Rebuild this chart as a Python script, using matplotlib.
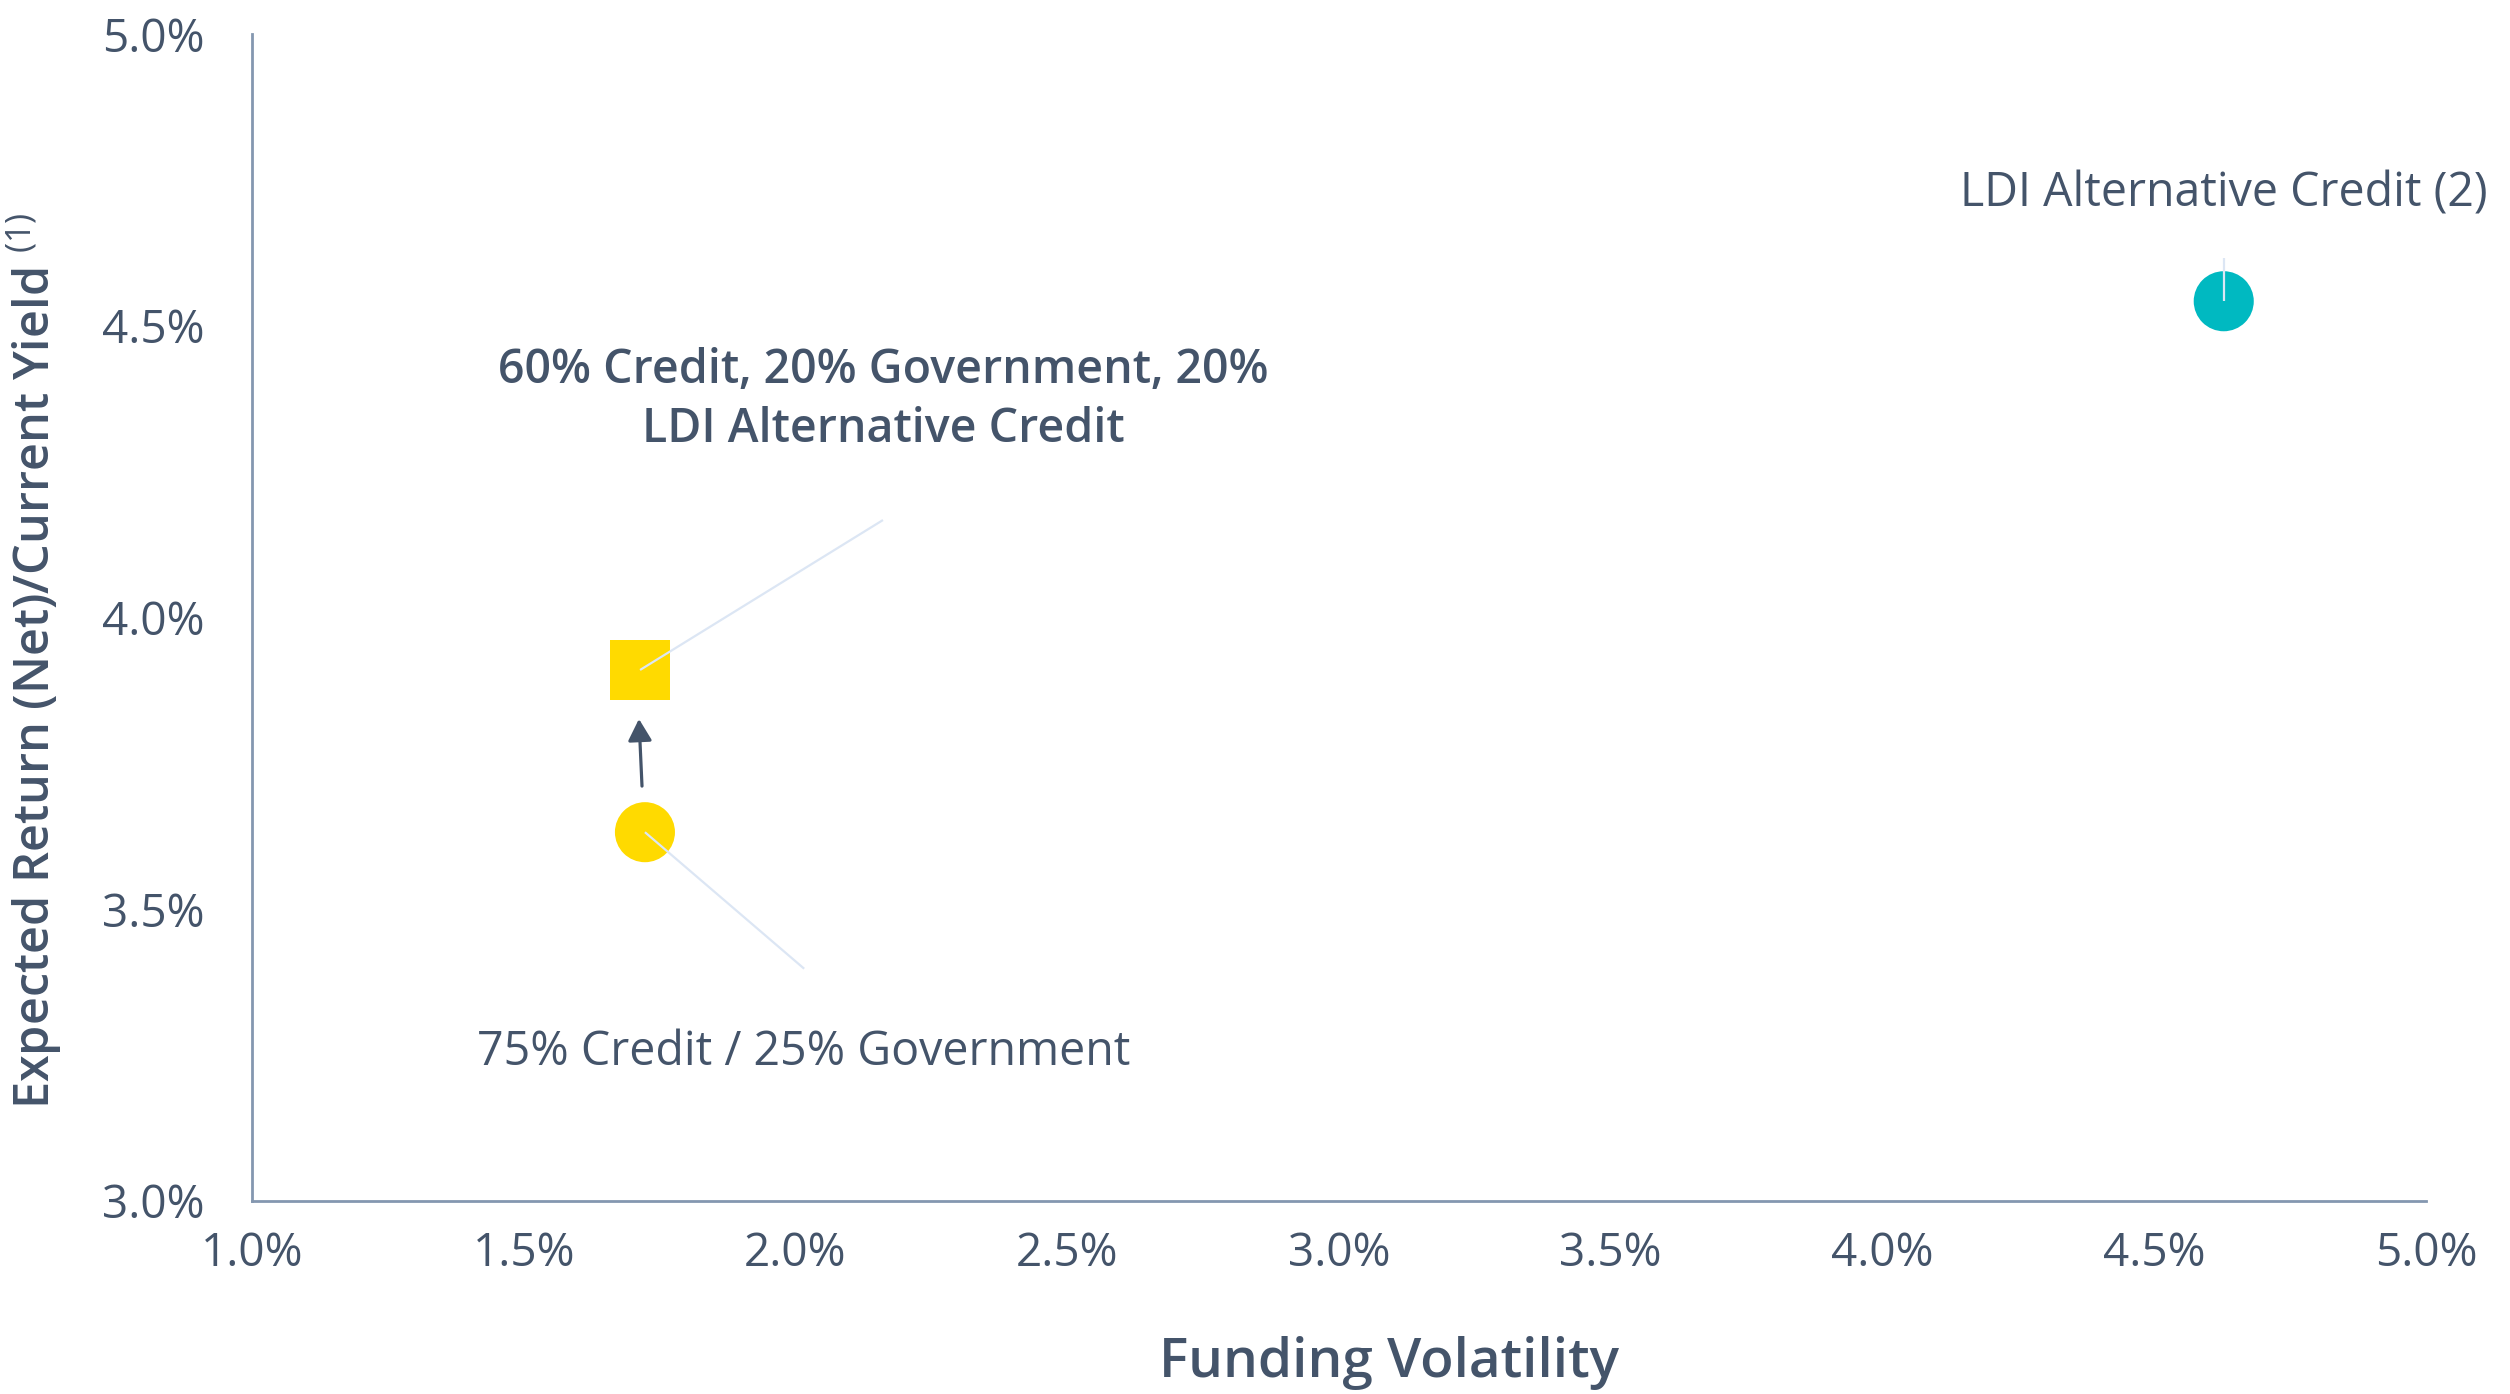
import matplotlib
matplotlib.use("Agg")
import matplotlib.pyplot as plt
from matplotlib.ticker import FuncFormatter

# portfolio points (funding volatility %, expected return %)
names = ["75% Credit / 25% Government",
         "60% Credit, 20% Government, 20%\nLDI Alternative Credit",
         "LDI Alternative Credit (2)"]
vol = [1.723, 1.714, 4.628]
ret = [3.632, 3.910, 4.542]
markers = ["o", "s", "o"]
colors = ["#FFDA00", "#FFDA00", "#00B9C1"]
weights = ["normal", "semibold", "normal"]

# label positions (data coords) and leader-line ends
label_xy = [(2.016, 3.255), (2.161, 4.373), (4.628, 4.726)]
leader_end = [(2.016, 3.398), (2.161, 4.167), (4.628, 4.616)]

TEXT = "#44546A"
AXIS = "#8497B0"
LEADER = "#DCE6F4"

plt.rcParams["font.family"] = ["Open Sans", "DejaVu Sans"]
plt.rcParams["mathtext.fontset"] = "custom"
plt.rcParams["mathtext.rm"] = "Open Sans"

fig = plt.figure(figsize=(25.1, 13.94), dpi=100)
ax = fig.add_axes([0.1004, 0.1385, 0.8661, 0.8371])

for i in range(len(names)):
    ax.plot([vol[i], leader_end[i][0]], [ret[i], leader_end[i][1]],
            color=LEADER, lw=1.6, zorder=3, solid_capstyle="butt")
    ax.scatter(vol[i], ret[i], marker=markers[i], s=1870, color=colors[i],
               edgecolors="none", zorder=2)
    ax.text(label_xy[i][0], label_xy[i][1], names[i], ha="center",
            va="center", fontsize=33.5, color=TEXT, fontweight=weights[i],
            linespacing=1.35)

# shift arrow from the 75/25 mix to the new mix
ax.annotate("", xy=(1.712, 3.826), xytext=(1.7176, 3.711),
            arrowprops=dict(arrowstyle="-|>,head_length=0.4,head_width=0.22",
                            color=TEXT, lw=2.3, mutation_scale=33,
                            shrinkA=0, shrinkB=0))

ax.set_xlim(1.0, 5.0)
ax.set_ylim(3.0, 5.0)
ax.set_xticks([1.0, 1.5, 2.0, 2.5, 3.0, 3.5, 4.0, 4.5, 5.0])
ax.set_yticks([3.0, 3.5, 4.0, 4.5, 5.0])
pct = FuncFormatter(lambda v, p: f"{v:.1f}%")
ax.xaxis.set_major_formatter(pct)
ax.yaxis.set_major_formatter(pct)
ax.tick_params(length=0, labelsize=33, labelcolor=TEXT)
ax.tick_params(axis="x", pad=22)
ax.tick_params(axis="y", pad=34)

for s in ["top", "right"]:
    ax.spines[s].set_visible(False)
for s in ["left", "bottom"]:
    ax.spines[s].set_color(AXIS)
    ax.spines[s].set_linewidth(2)

ax.set_xlabel("Funding Volatility", fontsize=39.5, color=TEXT,
              fontweight="semibold")
ax.xaxis.set_label_coords(0.523, -0.1157)
ax.set_ylabel("Expected Return (Net)/Current Yield $^{\\mathrm{(1)}}$",
              fontsize=35, color=TEXT, fontweight="semibold")
ax.yaxis.set_label_coords(-0.086, 0.463)

fig.savefig("out.png", dpi=100)
